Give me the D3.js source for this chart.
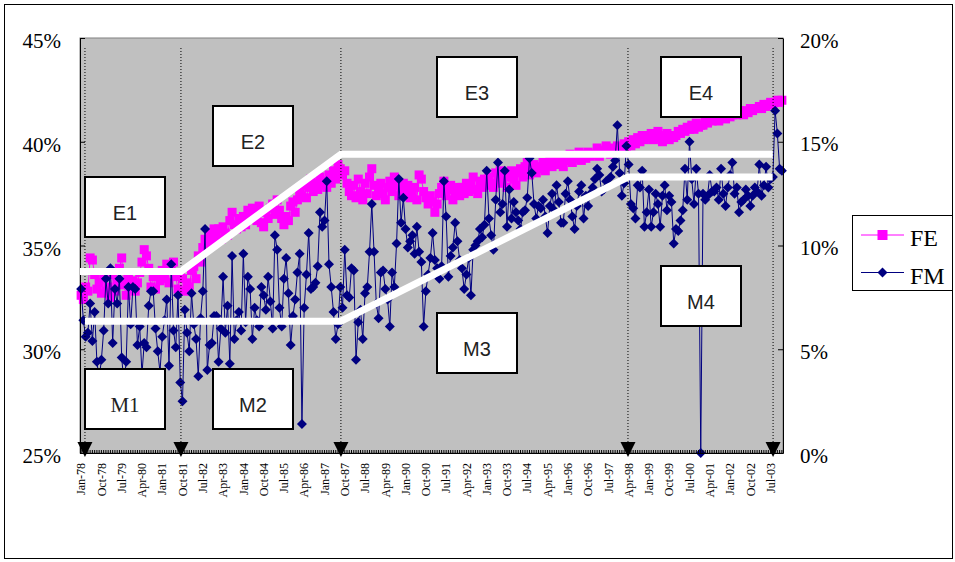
<!DOCTYPE html>
<html>
<head>
<meta charset="utf-8">
<script src="https://cdn.jsdelivr.net/npm/d3@7"></script>
<style>
  body { margin: 0; background: #fff; }
</style>
</head>
<body>
<div id="canvas"></div>
<script>
"use strict"

let svgWidth = 955;
let svgHeight = 562;

/* Monthly values, Jan-78 .. Dec-03, one row per year */
let startYear = 1978;

let feValues = [
  32.6, 32.4, 33.0, 32.8, 34.4, 34.3, 33.6, 32.9, 33.2, 32.7, 33.5, 32.8,
  33.0, 32.5, 33.6, 32.8, 33.2, 33.9, 34.4, 33.1, 32.6, 33.4, 32.9, 33.3,
  32.8, 33.2, 33.7, 34.2, 34.8, 34.5, 33.9, 33.0, 33.5, 32.9, 33.6, 33.3,
  33.8, 33.4, 34.1, 33.2, 33.9, 34.2, 33.5, 32.9, 33.7, 33.4, 32.8, 33.2,
  33.0, 33.8, 34.0, 33.4, 34.5, 34.2, 34.9, 35.3, 35.0, 35.6, 35.2, 35.8,
  35.4, 35.8, 35.3, 35.9, 35.6, 35.5, 36.2, 36.6, 36.0, 35.8, 36.3, 35.9,
  36.4, 36.0, 36.7, 36.3, 36.8, 36.5, 36.2, 36.9, 36.1, 35.9, 36.6, 36.3,
  36.8, 37.0, 36.5, 37.2, 36.7, 36.3, 36.0, 36.4, 36.2, 36.9, 37.1, 36.6,
  37.2, 37.6, 37.4, 37.9, 37.3, 37.8, 38.2, 37.6, 38.0, 37.7, 38.3, 37.9,
  38.1, 37.8, 38.4, 38.0, 38.6, 38.2, 38.9, 38.7, 38.4, 38.6, 38.0, 37.6,
  37.4, 37.9, 37.3, 38.2, 37.6, 37.2, 38.0, 37.5, 38.3, 38.7, 37.9, 37.4,
  37.7, 38.0, 37.5, 37.2, 37.8, 38.1, 37.6, 38.3, 37.9, 37.4, 37.7, 38.0,
  37.6, 37.9, 37.3, 37.5, 37.8, 37.2, 38.4, 38.2, 37.6, 37.3, 37.0, 37.4,
  37.1, 36.6, 37.0, 37.5, 37.8, 38.1, 37.4, 37.7, 37.9, 37.2, 37.6, 37.8,
  37.4, 37.8, 37.5, 38.0, 37.6, 37.9, 38.3, 37.7, 37.5, 38.1, 37.8, 38.2,
  37.9, 38.3, 38.0, 37.8, 38.5, 38.2, 38.6, 38.0, 38.4, 37.8, 38.3, 38.6,
  38.2, 37.9, 38.5, 38.7, 38.3, 38.8, 39.0, 38.4, 38.6, 38.9, 38.5, 38.8,
  38.7, 39.0, 38.6, 38.9, 39.1, 38.8, 39.2, 38.9, 39.0, 39.3, 38.8, 39.1,
  39.1, 39.4, 39.0, 39.3, 39.2, 39.5, 39.1, 39.4, 39.2, 39.5, 39.3, 39.4,
  39.4, 39.7, 39.3, 39.6, 39.5, 39.8, 39.6, 39.4, 39.7, 39.6, 39.8, 39.5,
  39.7, 39.9, 39.6, 40.0, 39.8, 40.1, 39.9, 40.2, 40.0, 40.3, 40.1, 40.3,
  40.2, 40.4, 40.1, 40.3, 40.5, 40.2, 40.0, 40.3, 40.4, 40.1, 40.3, 40.2,
  40.3, 40.5, 40.4, 40.6, 40.5, 40.7, 40.6, 40.8, 40.6, 40.9, 40.7, 40.8,
  40.8, 41.0, 40.9, 41.1, 41.0, 41.2, 41.1, 41.0, 41.2, 41.3, 41.1, 41.3,
  41.2, 41.3, 41.4, 41.3, 41.5, 41.4, 41.3, 41.5, 41.4, 41.6, 41.5, 41.6,
  41.6, 41.7, 41.6, 41.8, 41.7, 41.8, 41.9, 41.8, 41.9, 42.0, 41.9, 42.0
];

let fmValues = [
  7.9, 6.4, 5.6, 5.8, 7.2, 5.4, 6.8, 4.4, 3.6, 4.5, 5.9, 8.4,
  7.2, 8.9, 5.3, 7.9, 7.2, 8.4, 4.6, 3.4, 4.4, 8.0, 6.2, 8.0,
  7.9, 5.2, 6.1, 3.8, 5.3, 5.1, 7.1, 7.8, 7.8, 6.0, 4.9, 3.9,
  5.6, 6.4, 7.4, 4.2, 9.1, 5.9, 5.1, 7.6, 3.4, 2.5, 6.9, 5.8,
  4.9, 7.7, 6.2, 5.5, 3.7, 6.5, 7.8, 10.8, 4.0, 5.2, 5.3, 6.6,
  6.6, 4.4, 6.0, 8.5, 5.8, 7.1, 4.3, 9.5, 5.5, 6.4, 6.8, 5.9,
  9.6, 6.3, 8.5, 7.9, 5.5, 7.0, 6.4, 6.1, 8.0, 7.6, 6.9, 8.5,
  7.3, 6.0, 10.5, 9.8, 7.0, 6.1, 8.4, 9.4, 7.7, 5.2, 6.6, 7.4,
  8.7, 9.6, 1.4, 7.0, 8.6, 10.6, 7.9, 8.0, 8.2, 9.0, 11.6, 10.9,
  11.2, 13.1, 9.1, 8.0, 6.8, 5.5, 6.2, 8.0, 7.0, 9.8, 7.6, 7.5,
  8.9, 8.8, 4.5, 6.3, 6.9, 5.5, 7.7, 8.0, 9.7, 12.0, 9.7, 7.2,
  6.5, 8.7, 8.8, 7.9, 7.4, 6.1, 8.7, 8.0, 10.1, 13.2, 11.1, 12.3,
  10.8, 9.9, 10.2, 10.5, 9.6, 10.9, 9.7, 9.2, 6.1, 7.8, 8.6, 9.4,
  10.6, 9.3, 8.9, 8.4, 9.0, 13.1, 11.4, 8.5, 9.5, 9.9, 11.1, 10.2,
  9.3, 8.9, 7.9, 8.6, 9.4, 7.6, 9.8, 10.0, 10.2, 10.8, 10.4, 11.0,
  13.6, 11.3, 10.5, 9.8, 12.2, 14.0, 11.6, 12.0, 13.6, 10.9, 12.7, 11.3,
  12.1, 11.6, 11.2, 10.8, 11.6, 11.7, 12.3, 14.2, 13.5, 12.0, 11.3, 11.9,
  11.8, 12.2, 11.4, 10.6, 11.9, 12.5, 11.7, 12.9, 12.1, 11.1, 11.1, 12.5,
  13.1, 12.2, 11.4, 10.8, 11.9, 12.6, 12.9, 11.3, 12.4, 11.9, 12.5, 12.8,
  13.2, 13.7, 13.4, 12.6, 12.7, 13.1, 12.9, 13.3, 13.8, 14.1, 15.8, 13.5,
  12.4, 13.0, 14.8, 13.9, 12.0, 11.8, 11.3, 12.9, 12.8, 13.6, 10.9, 11.6,
  12.7, 10.9, 11.6, 12.5, 12.0, 10.9, 12.4, 12.9, 11.7, 12.4, 12.1, 10.1,
  10.8, 10.7, 11.2, 11.7, 13.7, 12.2, 15.0, 13.2, 12.0, 13.7, 12.5, 0.0,
  12.5, 12.2, 12.4, 13.4, 12.6, 12.6, 12.8, 12.2, 13.7, 12.5, 11.9, 12.8,
  13.4, 14.0, 12.5, 12.8, 11.6, 12.1, 12.2, 12.7, 12.4, 11.9, 12.4, 12.8,
  12.6, 13.9, 12.4, 12.9, 13.8, 12.8, 13.2, 13.3, 16.5, 15.4, 13.7, 13.6
];

let xTickLabels = ["Jan-78", "Oct-78", "Jul-79", "Apr-80", "Jan-81", "Oct-81", "Jul-82",
  "Apr-83", "Jan-84", "Oct-84", "Jul-85", "Apr-86", "Jan-87", "Oct-87", "Jul-88",
  "Apr-89", "Jan-90", "Oct-90", "Jul-91", "Apr-92", "Jan-93", "Oct-93", "Jul-94",
  "Apr-95", "Jan-96", "Oct-96", "Jul-97", "Apr-98", "Jan-99", "Oct-99", "Jul-00",
  "Apr-01", "Jan-02", "Oct-02", "Jul-03"];
let leftTicks = [25, 30, 35, 40, 45];
let rightTicks = [0, 5, 10, 15, 20];

/* regime boundaries (months since Jan-78) and the white trend lines */
let regimeBreaks = [1.7, 44.3, 115.3, 242.7, 307.1];
let feTrend = [[-0.5, 33.75], [44.3, 33.75], [115.3, 39.4], [306.9, 39.4]];
let fmTrend = [[1.7, 6.35], [115.3, 6.35], [242.7, 13.3], [306.9, 13.3]];

/* annotation boxes: label, top-left corner */
let boxes = [
  {label: "E1", x: 85, y: 177, serif: false},
  {label: "E2", x: 213, y: 106, serif: false},
  {label: "E3", x: 437, y: 57, serif: false},
  {label: "E4", x: 661, y: 57, serif: false},
  {label: "M1", x: 85, y: 369, serif: true},
  {label: "M2", x: 213, y: 369, serif: false},
  {label: "M3", x: 437, y: 313, serif: false},
  {label: "M4", x: 661, y: 266, serif: false}
];

let monthNames = ["Jan", "Feb", "Mar", "Apr", "May", "Jun", "Jul", "Aug", "Sep", "Oct", "Nov", "Dec"];
let months = feValues.map((d, i) =>
  monthNames[i % 12] + "-" + String((startYear + Math.floor(i / 12)) % 100).padStart(2, "0"));

let serif = "'Liberation Serif', 'Times New Roman', serif";
let sans = "'Liberation Sans', Arial, sans-serif";

let plot = {left: 80, right: 783, top: 38, bottom: 453};

let svg = d3.select("#canvas")
    .append("svg")
    .attr("width", svgWidth)
    .attr("height", svgHeight);

/* chart border */
svg.append("rect")
    .attr("x", 4.5).attr("y", 4.5)
    .attr("width", 948).attr("height", 554)
    .attr("fill", "white")
    .attr("stroke", "black");

/* Scales */
let xScale = d3.scaleBand()
    .domain(months)
    .range([plot.left, plot.right]);
let step = xScale.step();
let xMid = m => xScale(m) + step / 2;
let xAt = i => plot.left + (i + 0.5) * step;

let yLeft = d3.scaleLinear().domain([25, 45]).range([plot.bottom, plot.top]);
let yRight = d3.scaleLinear().domain([0, 20]).range([plot.bottom, plot.top]);

/* plot area */
svg.append("rect")
    .attr("x", plot.left).attr("y", plot.top)
    .attr("width", plot.right - plot.left)
    .attr("height", plot.bottom - plot.top)
    .attr("fill", "#c0c0c0")
    .attr("stroke", "#808080");

let fe = months.map((m, i) => ({m: m, v: feValues[i]}));
let fm = months.map((m, i) => ({m: m, v: fmValues[i]}));

/* series FE */
svg.append("path")
    .datum(fe)
    .attr("fill", "none")
    .attr("stroke", "#ff00ff")
    .attr("stroke-width", 1)
    .attr("d", d3.line().x(d => xMid(d.m)).y(d => yLeft(d.v)));

svg.selectAll("rect.fe")
    .data(fe)
    .join("rect")
    .attr("class", "fe")
    .attr("x", d => xMid(d.m) - 4.5)
    .attr("y", d => yLeft(d.v) - 4.5)
    .attr("width", 9)
    .attr("height", 9)
    .attr("fill", "#ff00ff");

/* series FM */
svg.append("path")
    .datum(fm)
    .attr("fill", "none")
    .attr("stroke", "#000080")
    .attr("stroke-width", 1)
    .attr("d", d3.line().x(d => xMid(d.m)).y(d => yRight(d.v)));

let diamond = "M0,-5L5,0L0,5L-5,0Z";
svg.selectAll("path.fm")
    .data(fm)
    .join("path")
    .attr("class", "fm")
    .attr("transform", d => "translate(" + xMid(d.m) + "," + yRight(d.v) + ")")
    .attr("d", diamond)
    .attr("fill", "#000080");

/* axes */
let axisLeft = svg.append("g")
    .attr("transform", "translate(" + plot.left + ",0)")
    .call(d3.axisLeft(yLeft).tickValues(leftTicks).tickSize(-5).tickSizeOuter(0)
        .tickPadding(19).tickFormat(d => d + "%"));
axisLeft.selectAll("text")
    .attr("font-family", serif).attr("font-size", 21).attr("fill", "black").attr("dy", "0.46em");

let axisRight = svg.append("g")
    .attr("transform", "translate(" + plot.right + ",0)")
    .call(d3.axisRight(yRight).tickValues(rightTicks).tickSize(-5).tickSizeOuter(0)
        .tickPadding(17).tickFormat(d => d + "%"));
axisRight.selectAll("text")
    .attr("font-family", serif).attr("font-size", 21).attr("fill", "black").attr("dy", "0.43em");

svg.append("g")
    .attr("transform", "translate(0," + plot.bottom + ")")
    .call(d3.axisBottom(xScale).tickValues(months).tickSize(-3).tickSizeOuter(0).tickFormat(""));

let axisLabels = svg.append("g")
    .attr("transform", "translate(0," + plot.bottom + ")")
    .call(d3.axisBottom(xScale).tickValues(xTickLabels).tickSize(0).tickSizeOuter(0));
axisLabels.select(".domain").remove();
axisLabels.selectAll("text")
    .attr("font-family", serif).attr("font-size", 12).attr("fill", "black")
    .attr("text-anchor", "end")
    .attr("transform", "translate(0,10) rotate(-90)")
    .attr("x", 0).attr("y", 0).attr("dy", "0.35em");

/* regime dotted lines and triangles */
regimeBreaks.forEach(function(b) {
    let x = xAt(b);
    svg.append("line")
        .attr("x1", x).attr("x2", x)
        .attr("y1", 48).attr("y2", 446)
        .attr("stroke", "black")
        .attr("stroke-dasharray", "1,2");
    svg.append("path")
        .attr("d", "M" + (x - 7.5) + ",442L" + (x + 7.5) + ",442L" + x + ",457Z")
        .attr("fill", "black");
});

/* white trend lines */
svg.append("path")
    .datum(feTrend)
    .attr("fill", "none").attr("stroke", "white").attr("stroke-width", 7)
    .attr("d", d3.line().x(d => xAt(d[0])).y(d => yLeft(d[1])));
svg.append("path")
    .datum(fmTrend)
    .attr("fill", "none").attr("stroke", "white").attr("stroke-width", 7)
    .attr("d", d3.line().x(d => xAt(d[0])).y(d => yRight(d[1])));

/* annotation boxes */
boxes.forEach(function(b) {
    svg.append("rect")
        .attr("x", b.x).attr("y", b.y)
        .attr("width", 80).attr("height", 60)
        .attr("fill", "white")
        .attr("stroke", "black")
        .attr("stroke-width", 2);
    svg.append("text")
        .attr("x", b.x + 40).attr("y", b.y + 43)
        .attr("text-anchor", "middle")
        .attr("font-family", b.serif ? serif : sans)
        .attr("font-size", b.serif ? 21 : 20)
        .attr("fill", "#222")
        .text(b.label);
});

/* legend */
svg.append("rect")
    .attr("x", 852.5).attr("y", 215.5)
    .attr("width", 100).attr("height", 75)
    .attr("fill", "white").attr("stroke", "black");

let legendItems = [
  {label: "FE", color: "#ff00ff", y: 235, shape: "square"},
  {label: "FM", color: "#000080", y: 272.5, shape: "diamond"}
];
legendItems.forEach(function(item) {
    svg.append("line")
        .attr("x1", 861).attr("x2", 904)
        .attr("y1", item.y).attr("y2", item.y)
        .attr("stroke", item.color);
    if (item.shape === "square") {
        svg.append("rect")
            .attr("x", 882.5 - 5).attr("y", item.y - 5)
            .attr("width", 10).attr("height", 10)
            .attr("fill", item.color);
    } else {
        svg.append("path")
            .attr("transform", "translate(882.5," + item.y + ")")
            .attr("d", diamond)
            .attr("fill", item.color);
    }
    svg.append("text")
        .attr("x", 910).attr("y", item.y + 11)
        .attr("font-family", serif).attr("font-size", 24)
        .text(item.label);
});
</script>
</body>
</html>
